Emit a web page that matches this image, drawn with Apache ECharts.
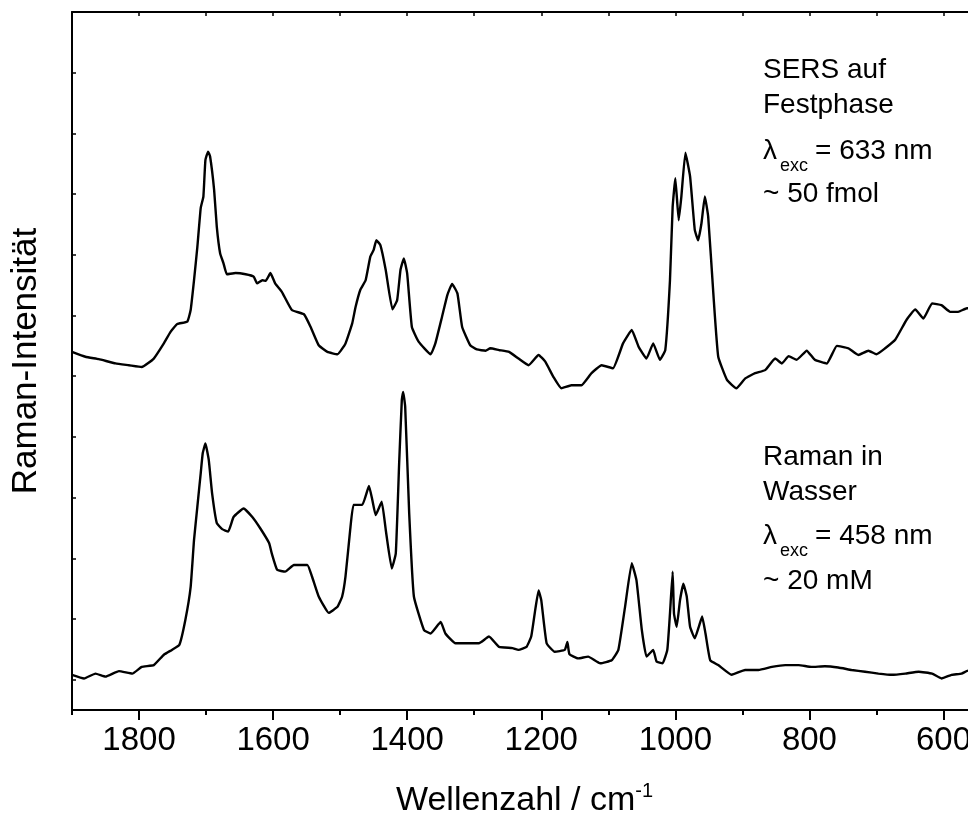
<!DOCTYPE html>
<html>
<head>
<meta charset="utf-8">
<script src="https://cdn.jsdelivr.net/npm/echarts@6/dist/echarts.min.js"></script>
<style>
  html, body { margin: 0; padding: 0; background: #fff; }
  #chart { width: 968px; height: 819px; }
</style>
</head>
<body>
<div id="chart"></div>
<script>
// SERS spectrum on solid phase (633 nm excitation), offset upward
const sersWavenumber = [1900,1880,1860,1835,1815,1796,1778,1763,1753,1743,1728,1723,1718,1713,1708,1704,1701,1697,1694,1688,1684,1679,1674,1669,1656,1641,1629,1624,1616,1611,1604,1597,1587,1572,1554,1544,1532,1519,1504,1492,1482,1477,1470,1462,1455,1450,1446,1440,1432,1422,1415,1410,1405,1400,1393,1383,1365,1358,1348,1340,1333,1325,1318,1306,1296,1283,1276,1263,1248,1234,1219,1204,1194,1182,1170,1155,1140,1125,1110,1093,1078,1065,1055,1043,1033,1023,1015,1008,1004,1000,995,991,985,978,971,966,961,956,951,943,936,923,909,896,881,866,851,841,831,819,804,792,774,759,742,727,712,700,687,672,655,642,630,617,603,590,578,565,552];
const sersIntensity = [5.90,5.82,5.78,5.71,5.68,5.65,5.79,6.04,6.23,6.36,6.40,6.59,7.08,7.63,8.27,8.46,9.06,9.20,9.12,8.57,7.96,7.52,7.36,7.18,7.20,7.18,7.14,7.03,7.08,7.07,7.20,7.03,6.89,6.59,6.52,6.31,6.01,5.90,5.86,6.04,6.37,6.64,6.92,7.08,7.47,7.58,7.74,7.66,7.25,6.60,6.75,7.25,7.44,7.19,6.31,6.07,5.86,6.04,6.48,6.84,7.02,6.86,6.31,6.01,5.94,5.92,5.96,5.93,5.90,5.79,5.68,5.85,5.74,5.49,5.30,5.35,5.35,5.55,5.68,5.63,6.04,6.26,5.99,5.79,6.04,5.77,5.93,7.08,8.29,8.76,8.07,8.46,9.18,8.79,7.91,7.74,8.02,8.46,8.13,6.81,5.82,5.44,5.30,5.46,5.55,5.60,5.79,5.71,5.83,5.77,5.92,5.77,5.71,6.00,5.96,5.85,5.92,5.86,5.96,6.10,6.43,6.60,6.45,6.70,6.67,6.56,6.56,6.62,6.60];

// Raman spectrum in water (458 nm excitation)
const ramanWavenumber = [1900,1882,1865,1850,1830,1810,1796,1778,1763,1751,1740,1731,1723,1718,1713,1708,1705,1701,1696,1691,1684,1676,1667,1659,1644,1631,1619,1606,1602,1594,1582,1569,1549,1542,1532,1517,1504,1497,1492,1485,1480,1467,1457,1452,1447,1438,1432,1423,1417,1412,1408,1406,1403,1397,1390,1375,1365,1350,1343,1328,1308,1293,1278,1263,1243,1234,1222,1215,1209,1204,1200,1192,1180,1165,1161,1158,1145,1130,1112,1095,1085,1075,1065,1058,1050,1043,1033,1028,1019,1012,1008,1004,1002,998,993,988,983,978,971,965,960,955,948,936,916,896,876,856,836,816,797,777,757,737,717,697,677,657,637,617,603,588,573,563,552];
const ramanIntensity = [0.58,0.52,0.60,0.55,0.64,0.60,0.71,0.74,0.91,0.99,1.07,1.48,2.03,2.80,3.35,3.90,4.23,4.39,4.12,3.57,3.08,2.98,2.94,3.18,3.32,3.18,2.99,2.75,2.58,2.31,2.28,2.39,2.39,2.20,1.87,1.60,1.70,1.87,2.20,2.97,3.38,3.38,3.69,3.46,3.21,3.43,2.97,2.33,2.58,4.06,5.11,5.24,5.00,3.24,1.87,1.32,1.26,1.45,1.26,1.10,1.10,1.10,1.21,1.04,1.02,0.99,1.04,1.21,1.65,1.97,1.81,1.10,0.96,0.99,1.12,0.92,0.85,0.88,0.77,0.82,0.99,1.70,2.42,2.14,1.32,0.88,0.99,0.80,0.77,0.99,1.59,2.28,1.59,1.37,1.81,2.08,1.87,1.37,1.18,1.37,1.54,1.26,0.82,0.74,0.58,0.66,0.66,0.71,0.74,0.74,0.71,0.72,0.70,0.66,0.63,0.60,0.58,0.60,0.63,0.60,0.52,0.58,0.60,0.65,0.62];

// Axis ticks
const majorTicks = [600, 800, 1000, 1200, 1400, 1600, 1800];
const minorTicks = [700, 900, 1100, 1300, 1500, 1700, 1900];
const topTicks = [600, 700, 800, 900, 1000, 1100, 1200, 1300, 1400, 1500, 1600, 1700, 1800, 1900];
const intensityTicks = [0.5, 1.5, 2.5, 3.5, 4.5, 5.5, 6.5, 7.5, 8.5, 9.5, 10.5];

// Annotation text
const sersNotes = ['SERS auf', 'Festphase', '= 633 nm', '~ 50 fmol'];
const ramanNotes = ['Raman in', 'Wasser', '= 458 nm', '~ 20 mM'];
const lambdaSymbol = 'λ';
const excSubscript = 'exc';

const FONT = '"Liberation Sans", Arial, Helvetica, sans-serif';

function zip(xs, ys) { return xs.map((x, i) => [x, ys[i]]); }

const chart = echarts.init(document.getElementById('chart'), null, { renderer: 'canvas' });

const axisLineStyle = { color: '#000', width: 2 };

function noteBlock(lines, ys) {
  const x0 = 763;
  const els = [];
  const txt = (text, x, y, size) => ({
    type: 'text', x: x, y: y, silent: true,
    style: { text: text, fill: '#000', font: size + 'px ' + FONT,
             textAlign: 'left', textVerticalAlign: 'middle', align: 'left', verticalAlign: 'middle' }
  });
  els.push(txt(lines[0], x0, ys[0], 28));
  els.push(txt(lines[1], x0, ys[1], 28));
  els.push(txt(lambdaSymbol, x0, ys[2], 28));
  els.push(txt(excSubscript, x0 + 17, ys[2] + 15, 18));
  els.push(txt(lines[2], x0 + 52, ys[2], 28));
  els.push(txt(lines[3], x0, ys[3], 28));
  return els;
}

const option = {
  animation: false,
  backgroundColor: '#fff',
  grid: { left: 72, top: 12, bottom: 109, right: -9, containLabel: false, outerBoundsMode: 'none' },
  xAxis: [
    {
      type: 'value', min: 550, max: 1900, inverse: true, position: 'bottom',
      axisLine: { show: true, onZero: false, lineStyle: axisLineStyle },
      axisTick: { show: true, inside: false, length: 10, customValues: majorTicks, lineStyle: { color: '#000', width: 2 } },
      axisLabel: { show: true, customValues: majorTicks, margin: 14, color: '#000', fontSize: 33, fontFamily: FONT,
                   formatter: v => String(v) },
      splitLine: { show: false },
      name: '{t|Wellenzahl / cm}{s|-1}',
      nameLocation: 'middle', nameGap: 71,
      nameTextStyle: {
        color: '#000', fontFamily: FONT,
        rich: {
          t: { fontSize: 34, lineHeight: 40, fontFamily: FONT, color: '#000' },
          s: { fontSize: 20, lineHeight: 20, verticalAlign: 'top', fontFamily: FONT, color: '#000' }
        }
      }
    },
    {
      type: 'value', min: 550, max: 1900, inverse: true, position: 'bottom',
      axisLine: { show: false, onZero: false },
      axisTick: { show: true, inside: false, length: 5, customValues: minorTicks, lineStyle: { color: '#000', width: 2 } },
      axisLabel: { show: false },
      splitLine: { show: false }
    },
    {
      type: 'value', min: 550, max: 1900, inverse: true, position: 'top',
      axisLine: { show: true, onZero: false, lineStyle: axisLineStyle },
      axisTick: { show: true, inside: true, length: 4, customValues: topTicks, lineStyle: { color: '#000', width: 1.5 } },
      axisLabel: { show: false },
      splitLine: { show: false }
    }
  ],
  yAxis: [
    {
      type: 'value', min: 0, max: 11.5, position: 'left',
      axisLine: { show: true, onZero: false, lineStyle: axisLineStyle },
      axisTick: { show: true, inside: true, length: 4, customValues: intensityTicks, lineStyle: { color: '#000', width: 1.5 } },
      axisLabel: { show: false },
      splitLine: { show: false },
      name: 'Raman-Intensität',
      nameLocation: 'middle', nameGap: 28,
      nameTextStyle: { color: '#000', fontSize: 35, fontFamily: FONT }
    },
    {
      type: 'value', min: 0, max: 11.5, position: 'right',
      axisLine: { show: true, onZero: false, lineStyle: axisLineStyle },
      axisTick: { show: false },
      axisLabel: { show: false },
      splitLine: { show: false }
    }
  ],
  series: [
    {
      name: 'SERS auf Festphase', type: 'line', xAxisIndex: 0, yAxisIndex: 0,
      data: zip(sersWavenumber, sersIntensity),
      showSymbol: false, symbol: 'none', smooth: 0.12,
      lineStyle: { color: '#000', width: 2.4 }
    },
    {
      name: 'Raman in Wasser', type: 'line', xAxisIndex: 0, yAxisIndex: 0,
      data: zip(ramanWavenumber, ramanIntensity),
      showSymbol: false, symbol: 'none', smooth: 0.12,
      lineStyle: { color: '#000', width: 2.4 }
    }
  ],
  graphic: [].concat(
    noteBlock(sersNotes, [70, 105, 151, 194]),
    noteBlock(ramanNotes, [457, 492, 536, 581])
  )
};

chart.setOption(option);
</script>
</body>
</html>
